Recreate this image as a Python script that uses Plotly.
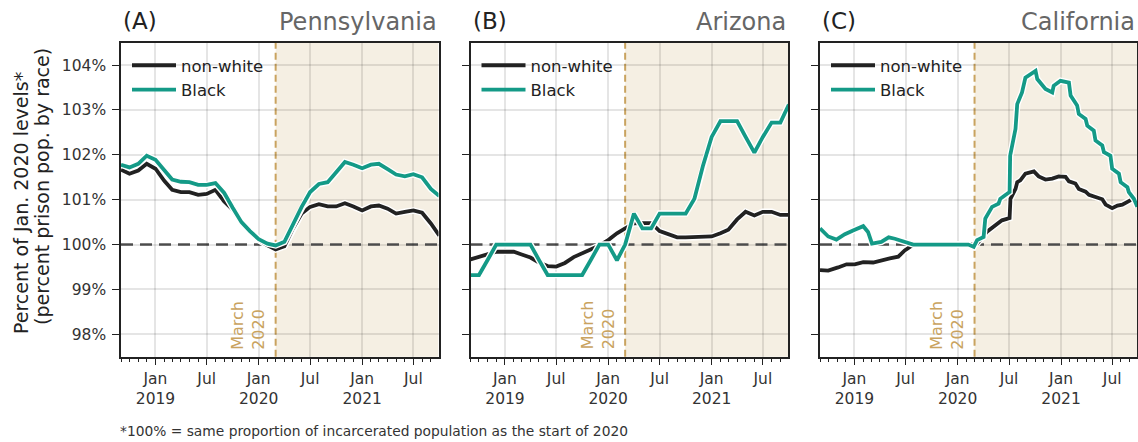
import pandas as pd
import plotly.graph_objects as go

# ---------------- data ----------------
monthly_dates = pd.date_range("2018-09-01", "2021-10-01", freq="MS")  # 38 months

pa_nonwhite = [101.67, 101.58, 101.65, 101.80, 101.69, 101.42, 101.22, 101.17, 101.17, 101.11,
               101.13, 101.22, 100.96, 100.78, 100.48, 100.28, 100.10, 99.98, 99.89, 99.96,
               100.36, 100.69, 100.84, 100.90, 100.85, 100.85, 100.92, 100.85, 100.76, 100.85,
               100.87, 100.80, 100.69, 100.73, 100.76, 100.71, 100.47, 100.20]
pa_black = [101.78, 101.72, 101.80, 101.98, 101.89, 101.65, 101.45, 101.40, 101.39, 101.33,
            101.33, 101.37, 101.15, 100.82, 100.50, 100.30, 100.12, 100.02, 99.98, 100.06,
            100.45, 100.84, 101.17, 101.35, 101.39, 101.60, 101.84, 101.78, 101.70, 101.78,
            101.80, 101.68, 101.56, 101.52, 101.57, 101.50, 101.24, 101.08]

az_nonwhite = [99.67, 99.73, 99.80, 99.84, 99.84, 99.84, 99.78, 99.71, 99.60, 99.52,
               99.51, 99.59, 99.72, 99.80, 99.88, 99.98, 100.10, 100.25, 100.36, 100.47,
               100.48, 100.48, 100.30, 100.22, 100.16, 100.16, 100.16, 100.16, 100.18, 100.25,
               100.33, 100.56, 100.73, 100.65, 100.73, 100.73, 100.66, 100.66]
az_black = [99.32, 99.32, 99.66, 100.00, 100.00, 100.00, 100.00, 100.00, 99.66, 99.32,
            99.32, 99.32, 99.32, 99.32, 99.66, 100.00, 100.00, 99.65, 100.00, 100.69,
            100.36, 100.36, 100.69, 100.69, 100.69, 100.69, 101.02, 101.75, 102.40, 102.75,
            102.75, 102.75, 102.40, 102.05, 102.40, 102.72, 102.72, 103.12]

ca_black_dates = ["2018-09-01", "2018-09-30", "2018-10-29", "2018-11-28", "2019-01-02", "2019-02-01",
                  "2019-02-18", "2019-03-04", "2019-04-06", "2019-05-02", "2019-05-24", "2019-06-28",
                  "2019-07-28", "2020-02-08", "2020-02-27", "2020-03-10", "2020-04-02", "2020-04-08",
                  "2020-05-02", "2020-05-25", "2020-05-31", "2020-06-17", "2020-07-03", "2020-07-05",
                  "2020-07-24", "2020-07-30", "2020-08-16", "2020-08-28", "2020-09-15", "2020-10-03",
                  "2020-10-09", "2020-11-01", "2020-11-07", "2020-12-01", "2020-12-06", "2020-12-30",
                  "2021-01-29", "2021-02-04", "2021-02-27", "2021-03-05", "2021-03-29", "2021-04-04",
                  "2021-04-27", "2021-05-03", "2021-05-27", "2021-06-02", "2021-06-25", "2021-07-01",
                  "2021-07-25", "2021-07-31", "2021-08-24", "2021-08-29", "2021-09-16", "2021-09-28"]
ca_black = [100.36, 100.18, 100.11, 100.23, 100.33, 100.41,
            100.28, 100.02, 100.06, 100.16, 100.13, 100.06,
            100.00, 100.00, 99.95, 100.10, 100.17, 100.58,
            100.84, 100.91, 101.02, 101.10, 101.17, 101.98,
            102.58, 103.13, 103.39, 103.72, 103.80, 103.87,
            103.69, 103.50, 103.47, 103.39, 103.54, 103.65,
            103.61, 103.32, 103.10, 102.91, 102.80, 102.65,
            102.54, 102.32, 102.21, 102.06, 101.98, 101.69,
            101.58, 101.39, 101.28, 101.17, 101.02, 100.84]

ca_nonwhite_dates = ["2018-09-01", "2018-09-30", "2018-11-04", "2018-12-04", "2019-01-02", "2019-02-01",
                     "2019-03-08", "2019-04-06", "2019-05-06", "2019-06-05", "2019-06-28", "2019-07-28",
                     "2020-02-27", "2020-03-10", "2020-04-13", "2020-05-08", "2020-05-25", "2020-06-06",
                     "2020-07-03", "2020-07-06", "2020-07-24", "2020-07-30", "2020-08-10", "2020-08-28",
                     "2020-09-27", "2020-10-14", "2020-11-07", "2020-12-01", "2020-12-24", "2021-01-17",
                     "2021-01-29", "2021-02-21", "2021-03-05", "2021-03-29", "2021-04-10", "2021-05-03",
                     "2021-05-27", "2021-06-08", "2021-07-01", "2021-07-20", "2021-08-06", "2021-08-29",
                     "2021-09-07"]
ca_nonwhite = [99.43, 99.42, 99.49, 99.56, 99.56, 99.61,
               99.60, 99.65, 99.69, 99.73, 99.87, 100.00,
               100.00, 100.02, 100.28, 100.39, 100.47, 100.54,
               100.59, 101.02, 101.24, 101.39, 101.43, 101.58,
               101.63, 101.52, 101.45, 101.47, 101.52, 101.51,
               101.41, 101.36, 101.24, 101.18, 101.11, 101.06,
               101.01, 100.89, 100.81, 100.87, 100.89, 100.97,
               101.00]

panel_letters = ["(A)", "(B)", "(C)"]
panel_states = ["Pennsylvania", "Arizona", "California"]
series_names = ["non-white", "Black"]

y_ticks = [98, 99, 100, 101, 102, 103, 104]
y_ticktext = [f"{v}%" for v in y_ticks]
x_tickvals = ["2019-01-01", "2019-07-01", "2020-01-01", "2020-07-01", "2021-01-01", "2021-07-01"]
x_ticktext = ["Jan<br>2019", "Jul", "Jan<br>2020", "Jul", "Jan<br>2021", "Jul"]
minor_ticks = pd.date_range("2018-09-01", "2021-09-01", freq="MS")

X_RANGE = ["2018-09-01", "2021-09-28"]
Y_RANGE = [97.5, 104.5]
MARCH = "2020-03-01"

# ---------------- style / geometry ----------------
W, H = 1138, 442


def px(v):
    return v / W


def py(v):
    return 1 - v / H


BLACK = "#222222"
TEAL = "#149a87"
SHADE = "#f5efe3"
MARCH_C = "#c9a35f"
TXT = "#262626"
FONT = "DejaVu Sans"

x_domains = [[px(121), px(438.5)], [px(470.5), px(788)], [px(820), px(1137.3)]]
y_domain = [py(356.7), py(42.7)]

panels = [
    (monthly_dates, pa_nonwhite, monthly_dates, pa_black),
    (monthly_dates, az_nonwhite, monthly_dates, az_black),
    (ca_nonwhite_dates, ca_nonwhite, ca_black_dates, ca_black),
]

fig = go.Figure()
layout = dict(
    width=W, height=H,
    margin=dict(l=0, r=0, t=0, b=0, pad=0),
    paper_bgcolor="white", plot_bgcolor="white",
    font=dict(family=FONT, color=TXT),
)
shapes, annotations = [], []

for i, (xn, yn, xb, yb) in enumerate(panels):
    k = "" if i == 0 else str(i + 1)
    xa, ya = "x" + k, "y" + k
    leg = "legend" + k
    for xs, ys, col, name in [(xn, yn, BLACK, series_names[0]), (xb, yb, TEAL, series_names[1])]:
        fig.add_trace(go.Scatter(x=xs, y=ys, mode="lines", xaxis=xa, yaxis=ya,
                                 line=dict(color="white", width=6.5), showlegend=False,
                                 hoverinfo="skip"))
        fig.add_trace(go.Scatter(x=xs, y=ys, mode="lines", xaxis=xa, yaxis=ya, name=name,
                                 line=dict(color=col, width=3.8), legend=leg))

    layout["xaxis" + k] = dict(
        domain=x_domains[i], anchor=ya, type="date", range=X_RANGE,
        showline=True, linecolor=BLACK, linewidth=1.5, mirror=True,
        ticks="outside", ticklen=7, tickwidth=1.2, tickcolor=BLACK,
        tickmode="array", tickvals=x_tickvals, ticktext=x_ticktext,
        tickfont=dict(size=15.5, color="#333333", family=FONT),
        showgrid=True, gridcolor="rgba(0,0,0,0.10)", gridwidth=1.6, zeroline=False,
        minor=dict(tickmode="array", tickvals=list(minor_ticks), ticks="outside", ticklen=3.5,
                   tickwidth=1, tickcolor=BLACK, showgrid=False),
    )
    layout["yaxis" + k] = dict(
        domain=y_domain, anchor=xa, range=Y_RANGE,
        showline=True, linecolor=BLACK, linewidth=1.5, mirror=True,
        ticks="outside", ticklen=7, tickwidth=1.2, tickcolor=BLACK,
        tickmode="array", tickvals=y_ticks, ticktext=y_ticktext,
        showticklabels=(i == 0), ticklabelstandoff=3,
        tickfont=dict(size=15.5, color="#333333", family=FONT),
        showgrid=True, gridcolor="rgba(0,0,0,0.10)", gridwidth=1.6, zeroline=False,
    )
    # shaded post-March-2020 period
    shapes.append(dict(type="rect", xref=xa, yref=ya + " domain", x0=MARCH, x1=X_RANGE[1],
                       y0=0, y1=1, fillcolor=SHADE, line=dict(width=0), layer="below"))
    # 100% reference line
    shapes.append(dict(type="line", xref=xa + " domain", yref=ya, x0=0, x1=1, y0=100, y1=100,
                       line=dict(color="#555555", width=2.6, dash="12px,7px"), layer="below"))
    # March 2020 line
    shapes.append(dict(type="line", xref=xa, yref=ya + " domain", x0=MARCH, x1=MARCH, y0=0, y1=1,
                       line=dict(color=MARCH_C, width=2, dash="7px,4px"), layer="below"))
    annotations.append(dict(text="March<br>2020", xref=xa, yref=ya + " domain", x=MARCH, y=0,
                            xanchor="right", yanchor="bottom", xshift=-5, yshift=5,
                            textangle=-90, align="left", showarrow=False,
                            font=dict(size=16, color=MARCH_C, family=FONT)))
    # titles
    annotations.append(dict(text=panel_letters[i], xref="paper", yref="paper",
                            x=x_domains[i][0], y=py(21), xanchor="left", yanchor="middle",
                            showarrow=False, font=dict(size=23, color=BLACK, family=FONT)))
    annotations.append(dict(text=panel_states[i], xref="paper", yref="paper",
                            x=x_domains[i][1], y=py(22), xanchor="right", yanchor="middle",
                            showarrow=False, font=dict(size=24, color="#666666", family=FONT)))
    # legend
    layout[leg] = dict(x=x_domains[i][0] + 6 / W, y=py(48), xanchor="left", yanchor="top",
                       bgcolor="rgba(0,0,0,0)", borderwidth=0, itemwidth=44,
                       font=dict(size=16.5, color=BLACK, family=FONT), traceorder="normal")

# y-axis title (two lines) and footnote
annotations.append(dict(text="Percent of Jan. 2020 levels*", xref="paper", yref="paper",
                        x=px(21), y=py(203), xanchor="center", yanchor="middle",
                        textangle=-90, showarrow=False,
                        font=dict(size=19, color=BLACK, family=FONT)))
annotations.append(dict(text="(percent prison pop. by race)", xref="paper", yref="paper",
                        x=px(42), y=py(187), xanchor="center", yanchor="middle",
                        textangle=-90, showarrow=False,
                        font=dict(size=19, color=BLACK, family=FONT)))
annotations.append(dict(text="*100% = same proportion of incarcerated population as the start of 2020",
                        xref="paper", yref="paper", x=px(118), y=py(431),
                        xanchor="left", yanchor="middle", showarrow=False,
                        font=dict(size=13.8, color="#333333", family=FONT)))

layout["shapes"] = shapes
layout["annotations"] = annotations
fig.update_layout(**layout)

# remove the browser's default 8px body margin so the figure fills the window exactly
fig.write_html("out.html",
               config={"displayModeBar": False},
               post_script="document.body.style.margin='0';document.body.style.overflow='hidden';")
